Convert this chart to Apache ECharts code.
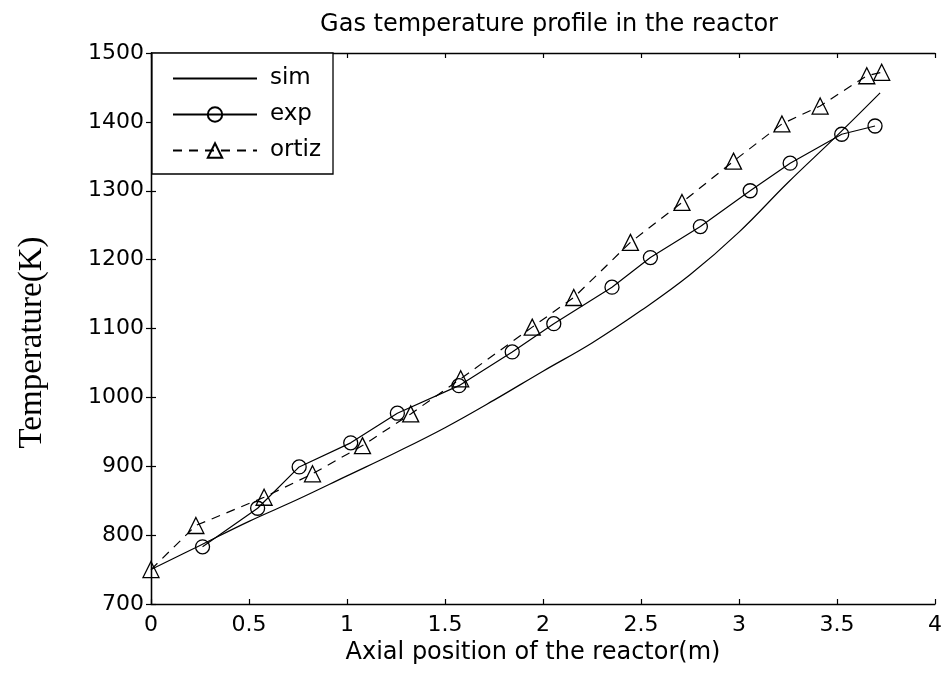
<!DOCTYPE html>
<html>
<head>
<meta charset="utf-8">
<script src="https://cdn.jsdelivr.net/npm/echarts@6/dist/echarts.min.js"></script>
<style>
html,body{margin:0;padding:0;background:#fff;}
#chart{width:946px;height:676px;}
</style>
</head>
<body>
<div id="chart"></div>
<script>
// Axial position (m) and temperature (K)
const simX = [0, 0.25, 0.5, 0.75, 1.0, 1.25, 1.5, 1.75, 2.0, 2.25, 2.5, 2.75, 3.0, 3.25, 3.5, 3.72];
const simT = [750, 785, 820, 852, 886, 920, 956, 996, 1038, 1079, 1126, 1178, 1240, 1312, 1380, 1442];

const expX = [0.263, 0.544, 0.756, 1.019, 1.257, 1.571, 1.843, 2.055, 2.352, 2.548, 2.803, 3.057, 3.261, 3.524, 3.694];
const expT = [783, 839, 899, 934, 977, 1017, 1066, 1107, 1160, 1203, 1248, 1300, 1340, 1382, 1394];

const ortizX = [0, 0.229, 0.577, 0.824, 1.079, 1.325, 1.58, 1.945, 2.157, 2.446, 2.709, 2.972, 3.219, 3.414, 3.652, 3.728];
const ortizT = [750, 814, 855, 889, 930, 976, 1027, 1102, 1145, 1225, 1283, 1343, 1397, 1423, 1467, 1472];

const seriesNames = ['sim', 'exp', 'ortiz'];
const xTicks = { min: 0, max: 4, interval: 0.5 };
const yTicks = { min: 700, max: 1500, interval: 100 };

const pair = (xs, ys) => xs.map((x, i) => [x, ys[i]]);

const sans = 'DejaVu Sans, Liberation Sans, Arial, sans-serif';
const chart = echarts.init(document.getElementById('chart'), null, { renderer: 'canvas' });

const axisLine = { show: true, lineStyle: { color: '#000', width: 1.3 } };
const tick = { show: true, inside: true, length: 5, lineStyle: { color: '#000', width: 1.2 } };

chart.setOption({
  animation: false,
  backgroundColor: '#fff',
  title: {
    text: 'Gas temperature profile in the reactor',
    left: 544, top: 8, textAlign: 'center',
    textStyle: { fontFamily: sans, fontSize: 24, fontWeight: 'normal', color: '#000' }
  },
  grid: { left: 151, right: 11, top: 53, bottom: 72, show: false },
  legend: {
    orient: 'vertical',
    left: 152, top: 53,
    data: [
      { name: seriesNames[0], itemStyle: { color: 'rgba(0,0,0,0)', borderWidth: 0 } },
      seriesNames[1],
      seriesNames[2]
    ],
    backgroundColor: '#fff',
    borderColor: '#000', borderWidth: 1.3, borderRadius: 0,
    padding: [14, 12, 12, 20],
    itemWidth: 84, itemHeight: 18, itemGap: 13,
    textStyle: { fontFamily: sans, fontSize: 23, color: '#000', padding: [0, 0, 0, 8] }
  },
  xAxis: [{
    type: 'value', min: xTicks.min, max: xTicks.max, interval: xTicks.interval,
    name: 'Axial position of the reactor(m)', nameLocation: 'middle', nameGap: 35,
    nameTextStyle: { fontFamily: sans, fontSize: 24, color: '#000', padding: [0, 20, 0, 0] },
    axisLine: axisLine, axisTick: tick, splitLine: { show: false },
    axisLabel: { fontFamily: sans, fontSize: 22, color: '#000', margin: 10 }
  }, {
    type: 'value', position: 'top', min: xTicks.min, max: xTicks.max, interval: xTicks.interval,
    axisLine: axisLine, axisTick: tick, splitLine: { show: false }, axisLabel: { show: false }
  }],
  yAxis: [{
    type: 'value', min: yTicks.min, max: yTicks.max, interval: yTicks.interval,
    name: 'Temperature(K)', nameLocation: 'middle', nameGap: 102, nameRotate: 90,
    nameTextStyle: { fontFamily: 'Liberation Serif, Times New Roman, serif', fontSize: 33, color: '#000', padding: [0, 28, 0, 0] },
    axisLine: axisLine, axisTick: tick, splitLine: { show: false },
    axisLabel: { fontFamily: sans, fontSize: 22, color: '#000', margin: 7, formatter: v => String(v) }
  }, {
    type: 'value', position: 'right', min: yTicks.min, max: yTicks.max, interval: yTicks.interval,
    axisLine: axisLine, axisTick: tick, splitLine: { show: false }, axisLabel: { show: false }
  }],
  series: [{
    name: seriesNames[0], type: 'line', data: pair(simX, simT), smooth: 0.4,
    showSymbol: false, symbol: 'none',
    lineStyle: { color: '#000', width: 1.2 }, itemStyle: { color: '#000' }
  }, {
    name: seriesNames[1], type: 'line', data: pair(expX, expT),
    symbol: 'circle', symbolSize: 14,
    lineStyle: { color: '#000', width: 1.2 },
    itemStyle: { color: 'rgba(255,255,255,0)', borderColor: '#000', borderWidth: 1.3 }
  }, {
    name: seriesNames[2], type: 'line', data: pair(ortizX, ortizT),
    symbol: 'triangle', symbolSize: 16,
    lineStyle: { color: '#000', width: 1.2, type: [9, 7] },
    itemStyle: { color: 'rgba(255,255,255,0)', borderColor: '#000', borderWidth: 1.3 }
  }]
});
</script>
</body>
</html>
